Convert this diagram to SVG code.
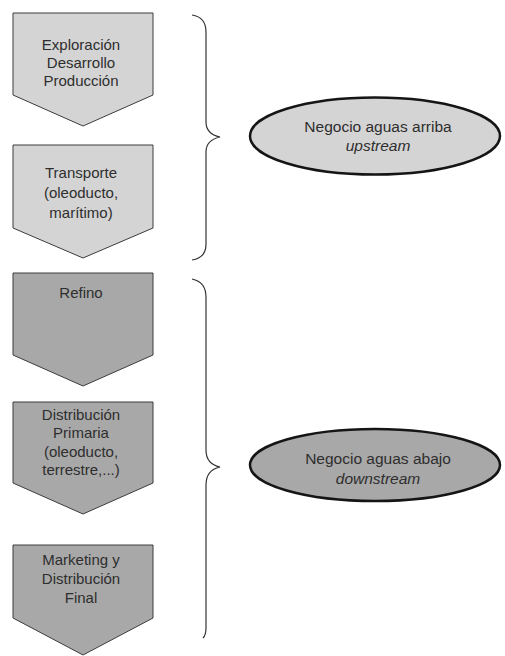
<svg xmlns="http://www.w3.org/2000/svg" width="505" height="656" viewBox="0 0 505 656">
<style>
.up{fill:#d4d4d4;stroke:#3c3c3c;stroke-width:1}
.down{fill:#a8a8a8;stroke:#3c3c3c;stroke-width:1}
.ell{stroke:#151515;stroke-width:2.5}
.t{font-family:"Liberation Sans",Arial,sans-serif;font-size:15px;fill:#2e2e2e;text-anchor:middle}
.e{font-size:15.5px}
.it{font-style:italic}
.brace{fill:none;stroke:#333;stroke-width:1.2}
</style>
<rect width="505" height="656" fill="#fff"/>
<g id="exploracion">
<polygon class="up" points="13,13 153,13 153,95 83,126 13,95"/>
<text class="t" x="81" y="50">Exploración</text>
<text class="t" x="81" y="68">Desarrollo</text>
<text class="t" x="81" y="86">Producción</text>
</g>
<g id="transporte">
<polygon class="up" points="13,145 153,145 153,228 83,258 13,228"/>
<text class="t" x="81" y="178">Transporte</text>
<text class="t" x="81" y="198">(oleoducto,</text>
<text class="t" x="81" y="218">marítimo)</text>
</g>
<g id="refino">
<polygon class="down" points="13,273 153,273 153,355 83,386 13,355"/>
<text class="t" x="81" y="298">Refino</text>
</g>
<g id="distribucion-primaria">
<polygon class="down" points="13,402 153,402 153,483 83,514 13,483"/>
<text class="t" x="81" y="420">Distribución</text>
<text class="t" x="81" y="438">Primaria</text>
<text class="t" x="81" y="457">(oleoducto,</text>
<text class="t" x="81" y="475">terrestre,...)</text>
</g>
<g id="marketing">
<polygon class="down" points="13,545 153,545 153,618 83,655 13,618"/>
<text class="t" x="81" y="565">Marketing y</text>
<text class="t" x="81" y="584">Distribución</text>
<text class="t" x="81" y="603">Final</text>
</g>
<g id="upstream">
<ellipse class="ell" cx="375" cy="136" rx="125" ry="38.5" fill="#d4d4d4"/>
<text class="t e" x="378" y="132">Negocio aguas arriba</text>
<text class="t e it" x="378" y="151">upstream</text>
</g>
<g id="downstream">
<ellipse class="ell" cx="375" cy="465" rx="125" ry="36" fill="#a8a8a8"/>
<text class="t e" x="378" y="464">Negocio aguas abajo</text>
<text class="t e it" x="378" y="484">downstream</text>
</g>
<g id="connectors">
<path class="brace" d="M192,15 Q206,17 206,32 L206,122 Q206,134 220,137 Q206,140 206,152 L206,244 Q206,258 192,260"/>
<path class="brace" d="M192,279 Q206,282 206,297 L206,450 Q206,464 220,467 Q206,470 206,485 L206,628 Q206,635 203,638"/>
</g>
</svg>
